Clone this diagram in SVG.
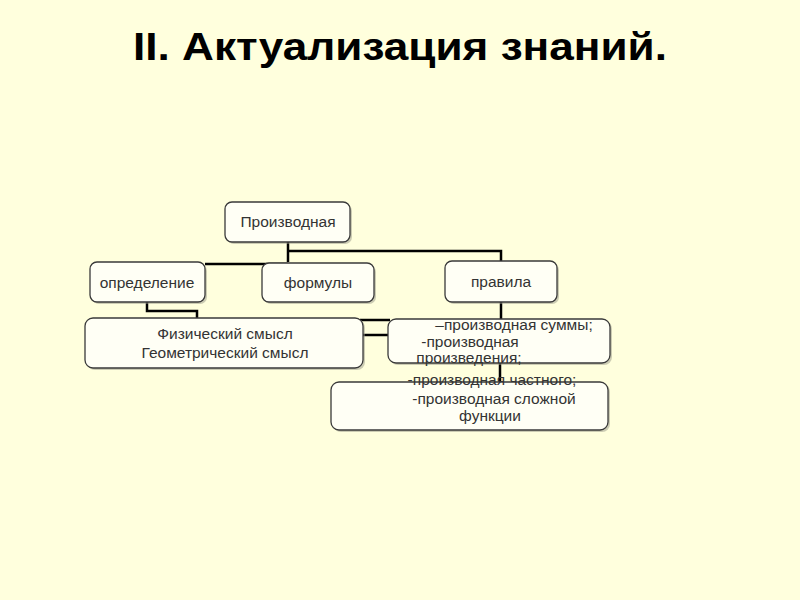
<svg xmlns="http://www.w3.org/2000/svg" width="800" height="600" viewBox="0 0 800 600">
<style>
.bg{fill:#FFFFDD}
.box{fill:#FFFFF5;stroke:#3a3a3a;stroke-width:1.3}
.sh{fill:#9a9a8a;opacity:0.5}
.t{font-family:"Liberation Sans",Arial,sans-serif;font-size:15.5px;fill:#333;text-anchor:middle}
.title{font-family:"Liberation Sans",Arial,sans-serif;font-size:38px;font-weight:bold;fill:#000;text-anchor:middle}
.c{fill:none;stroke:#000;stroke-width:2.5}
</style>
<rect class="bg" x="0" y="0" width="800" height="600"/>
<text class="title" x="400" y="60" textLength="534" lengthAdjust="spacingAndGlyphs">II. Актуализация знаний.</text>
<g id="connectors">
<path class="c" d="M288 242 V262"/>
<path class="c" d="M288 251 H501 V262"/>
<path class="c" d="M205 264 H288"/>
<path class="c" d="M147 302 V311 H197 V318"/>
<path class="c" d="M501 302 V319"/>
<path class="c" d="M360 320 H390"/>
<path class="c" d="M363 335 H388"/>
<path class="c" d="M500 363 V382"/>
</g>
<g id="n-proizvodnaya">
<rect class="sh" x="227" y="204" width="125" height="40" rx="7"/>
<rect class="box" x="225" y="202" width="125" height="40" rx="7"/>
<text class="t" x="288" y="227">Производная</text>
</g>
<g id="n-opredelenie">
<rect class="sh" x="92" y="264" width="115" height="40" rx="7"/>
<rect class="box" x="90" y="262" width="115" height="40" rx="7"/>
<text class="t" x="147" y="288">определение</text>
</g>
<g id="n-formuly">
<rect class="sh" x="264" y="265" width="112" height="39" rx="7"/>
<rect class="box" x="262" y="263" width="112" height="39" rx="7"/>
<text class="t" x="318" y="288">формулы</text>
</g>
<g id="n-pravila">
<rect class="sh" x="447" y="263" width="112" height="41" rx="7"/>
<rect class="box" x="445" y="261" width="112" height="41" rx="7"/>
<text class="t" x="501" y="287">правила</text>
</g>
<g id="n-smysl">
<rect class="sh" x="87" y="320" width="278" height="50" rx="8"/>
<rect class="box" x="85" y="318" width="278" height="50" rx="8"/>
<text class="t" x="225" y="339">Физический смысл</text>
<text class="t" x="225" y="358">Геометрический смысл</text>
</g>
<g id="n-pravila-list">
<rect class="sh" x="390" y="321" width="222" height="44" rx="8"/>
<rect class="box" x="388" y="319" width="222" height="44" rx="8"/>
<text class="t" x="514" y="330">–производная суммы;</text>
<text class="t" x="470" y="347">-производная</text>
<text class="t" x="469" y="363">произведения;</text>
</g>
<g id="n-pravila-list2">
<rect class="sh" x="333" y="384" width="277" height="48" rx="8"/>
<rect class="box" x="331" y="382" width="277" height="48" rx="8"/>
<text class="t" x="492" y="385">-производная частного;</text>
<text class="t" x="494" y="404">-производная сложной</text>
<text class="t" x="490" y="421">функции</text>
</g>
</svg>
